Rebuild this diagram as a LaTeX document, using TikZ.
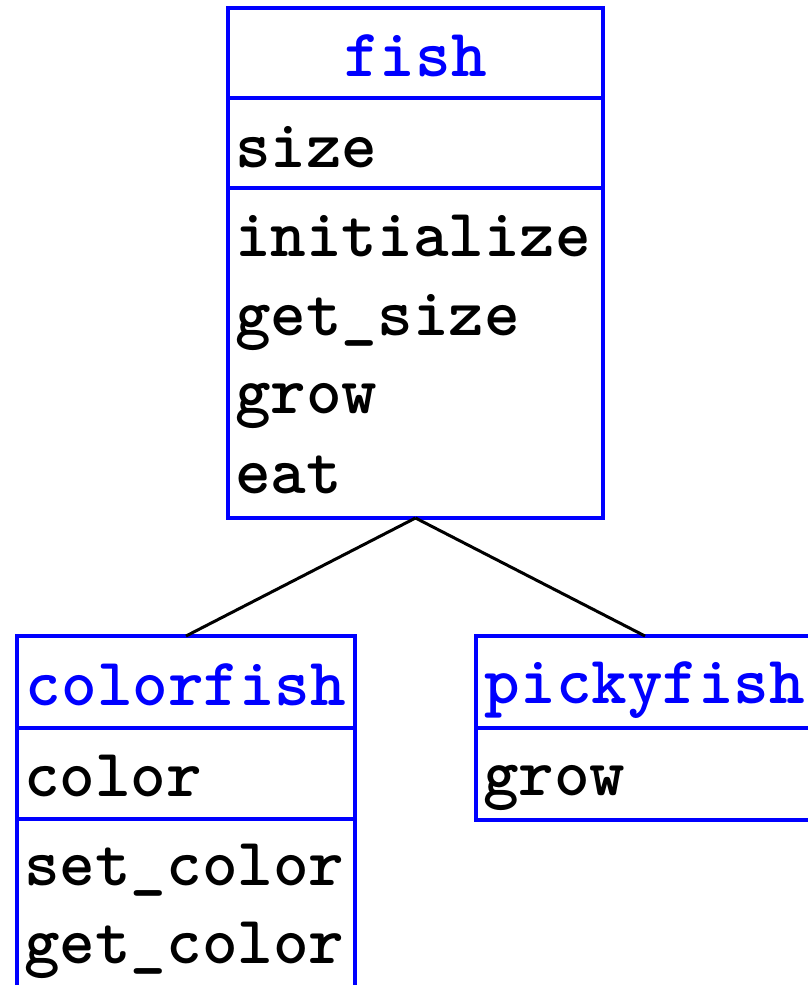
\documentclass[tikz,border=0pt]{standalone}
\definecolor{umlblue}{RGB}{0,0,255}
\tikzset{
  x=1pt, y=-1pt,
  codetext/.style={font=\ttfamily\bfseries\fontsize{67.8}{68}\selectfont},
  classbox/.style={draw=umlblue, line width=4pt, rectangle, inner sep=0pt, outer sep=0pt},
  sepline/.style={draw=umlblue, line width=4pt},
  member/.style={codetext, anchor=base west, inner sep=0pt, text=black},
  title/.style={codetext, anchor=base, inner sep=0pt, text=umlblue},
  link/.style={draw=black, line width=3pt}
}
\begin{document}
\begin{tikzpicture}
\useasboundingbox (0,0) rectangle (808,985);
\clip (0,0) rectangle (808,985);
% boxes
\node[classbox, minimum width=375pt, minimum height=510pt] (fish) at (415.5,263) {};
\node[classbox, minimum width=338pt, minimum height=424pt] (colorfish) at (186,848) {};
\node[classbox, minimum width=338pt, minimum height=184pt] (pickyfish) at (645,728) {};
% separators
\draw[sepline] (fish.west |- 0,98) -- (fish.east |- 0,98);
\draw[sepline] (fish.west |- 0,188) -- (fish.east |- 0,188);
\draw[sepline] (colorfish.west |- 0,728) -- (colorfish.east |- 0,728);
\draw[sepline] (colorfish.west |- 0,819) -- (colorfish.east |- 0,819);
\draw[sepline] (pickyfish.west |- 0,728) -- (pickyfish.east |- 0,728);
% texts fish
\node[title] (tfish) at (415.5,76) {fish};
\node[member] (fsize) at (235,167) {size};
\node[member] (finit) at (235,256) {initialize};
\node[member] (fget) at (235,335) {get\_size};
\node[member] (fgrow) at (235,413) {grow};
\node[member] (feat) at (235,493) {eat};
% texts colorfish
\node[title] (tcolor) at (186,705) {colorfish};
\node[member] (ccolor) at (24,796) {color};
\node[member] (cset) at (24,885) {set\_color};
\node[member] (cget) at (24,963) {get\_color};
% texts pickyfish
\node[title] (tpicky) at (645,703) {pickyfish};
\node[member] (pgrow) at (483,795) {grow};
% connectors
\draw[link] (fish.south) -- (colorfish.north);
\draw[link] (fish.south) -- (pickyfish.north);
\end{tikzpicture}
\end{document}
